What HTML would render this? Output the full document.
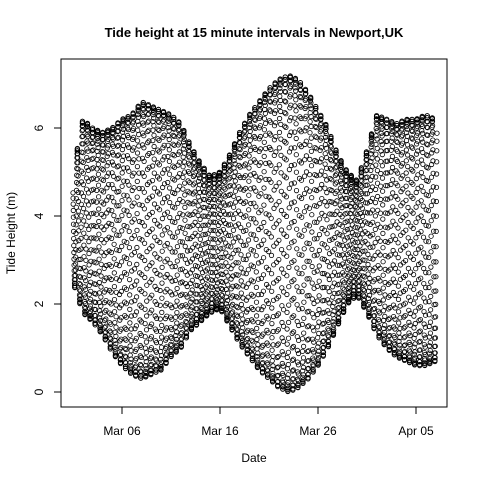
<!DOCTYPE html>
<html><head><meta charset="utf-8"><style>
body{margin:0;background:#fff}
svg{display:block;font-family:"Liberation Sans",Arial,sans-serif}
</style></head><body>
<svg id="chart" width="480" height="480" viewBox="0 0 480 480">
<rect width="480" height="480" fill="#fff"/>
<text x="254" y="37" text-anchor="middle" font-size="13" font-weight="bold">Tide height at 15 minute intervals in Newport,UK</text>
<text x="254" y="462" text-anchor="middle" font-size="12">Date</text>
<text transform="translate(15,233) rotate(-90)" text-anchor="middle" font-size="12">Tide Height (m)</text>
<g id="points"></g>
<g id="axes"></g>
<rect x="61" y="59" width="386" height="348" fill="none" stroke="#000" stroke-width="1"/>
</svg>
<script>
// Daily high and low tide heights (m), Mar 1 .. Apr 7
const dayHigh = [5.0,6.2,6.0,5.9,6.0,6.2,6.3,6.6,6.5,6.4,6.3,6.1,5.6,5.2,4.9,5.0,5.4,5.9,6.3,6.6,6.9,7.1,7.2,7.1,6.8,6.4,6.0,5.4,5.0,4.8,5.5,6.3,6.2,6.1,6.2,6.2,6.3,6.2];
const dayLow  = [2.5,1.8,1.6,1.3,0.9,0.6,0.4,0.3,0.4,0.5,0.8,1.0,1.4,1.6,1.8,1.9,1.5,1.1,0.8,0.5,0.3,0.1,0.0,0.1,0.3,0.6,1.0,1.5,2.0,2.2,1.8,1.3,1.0,0.8,0.7,0.6,0.6,0.7];
const xTickLabels = ["Mar 06","Mar 16","Mar 26","Apr 05"];
const xTickDays = [5,15,25,35];
const yTicks = [0,2,4,6];
const spanDays = 37.15;

const ns="http://www.w3.org/2000/svg";
const xS = d => 73 + d*9.8;
const yS = v => 392 - v*44;
function lerp(arr,t){const i=Math.max(0,Math.min(arr.length-1,Math.floor(t)));const j=Math.min(arr.length-1,i+1);const f=t-Math.floor(t);return arr[i]+(arr[j]-arr[i])*Math.max(0,Math.min(1,f));}
const g=document.getElementById('points');
const period=12.42/24;
for(let t=0;t<=spanDays;t+=1/96){
  const hi=lerp(dayHigh,t), lo=lerp(dayLow,t);
  const v=(hi+lo)/2+(hi-lo)/2*Math.cos(2*Math.PI*t/period+0.9);
  const c=document.createElementNS(ns,'circle');
  c.setAttribute('cx',xS(t).toFixed(1));c.setAttribute('cy',yS(v).toFixed(1));
  c.setAttribute('r','2.2');c.setAttribute('fill','none');c.setAttribute('stroke','#000');c.setAttribute('stroke-width','0.8');
  
  
  g.appendChild(c);
}
const ax=document.getElementById('axes');
function line(x1,y1,x2,y2){const l=document.createElementNS(ns,'line');l.setAttribute('x1',x1);l.setAttribute('y1',y1);l.setAttribute('x2',x2);l.setAttribute('y2',y2);l.setAttribute('stroke','#000');


ax.appendChild(l);}
line(xS(xTickDays[0]),407,xS(xTickDays[xTickDays.length-1]),407);
xTickDays.forEach((d,i)=>{line(xS(d),407,xS(d),414);
 const t=document.createElementNS(ns,'text');t.setAttribute('x',xS(d));t.setAttribute('y',435);t.setAttribute('text-anchor','middle');t.setAttribute('font-size','12');t.textContent=xTickLabels[i];
 
 
 ax.appendChild(t);});
line(61,yS(yTicks[0]),61,yS(yTicks[yTicks.length-1]));
yTicks.forEach(v=>{line(54,yS(v),61,yS(v));
 const t=document.createElementNS(ns,'text');t.setAttribute('transform',`translate(43,${yS(v)}) rotate(-90)`);t.setAttribute('text-anchor','middle');t.setAttribute('font-size','12');t.textContent=v;
 
 
 ax.appendChild(t);});
</script>
</body></html>
